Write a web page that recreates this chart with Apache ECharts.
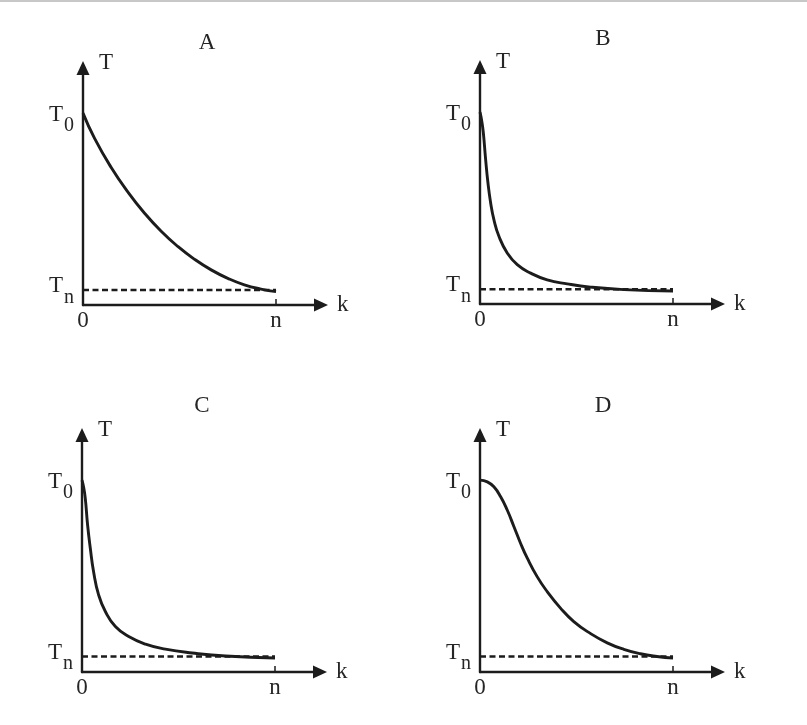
<!DOCTYPE html>
<html><head><meta charset="utf-8">
<script src="https://cdn.jsdelivr.net/npm/echarts@6/dist/echarts.min.js"></script>
<style>html,body{margin:0;padding:0;background:#fff}#c{width:807px;height:725px}</style>
</head><body><div id="c"></div>
<script>
// ---- data (k in units of n, T in units of T0) ----
const panelTitles = ['A', 'B', 'C', 'D'];
const kA = [0, 0.06, 0.147, 0.233, 0.319, 0.405, 0.491, 0.578, 0.664, 0.75, 0.836, 0.922, 1.0];
const tA = [1.0, 0.868, 0.715, 0.588, 0.478, 0.384, 0.305, 0.238, 0.183, 0.139, 0.105, 0.083, 0.07];
const kB = [0, 0.008, 0.017, 0.029, 0.041, 0.055, 0.072, 0.098, 0.141, 0.193, 0.262, 0.348, 0.452, 0.573, 0.745, 1.0];
const tB = [1.0, 0.96, 0.895, 0.755, 0.633, 0.528, 0.44, 0.353, 0.266, 0.205, 0.161, 0.126, 0.105, 0.088, 0.075, 0.068];
const kC = [0, 0.008, 0.017, 0.029, 0.043, 0.06, 0.086, 0.121, 0.173, 0.242, 0.329, 0.432, 0.571, 0.744, 1.0];
const tC = [1.0, 0.965, 0.905, 0.766, 0.645, 0.523, 0.402, 0.315, 0.237, 0.185, 0.145, 0.119, 0.099, 0.083, 0.073];
const kD = [0, 0.038, 0.072, 0.107, 0.141, 0.176, 0.21, 0.245, 0.296, 0.348, 0.417, 0.486, 0.573, 0.659, 0.745, 0.831, 0.917, 1.0];
const tD = [1.0, 0.991, 0.965, 0.913, 0.844, 0.757, 0.671, 0.593, 0.497, 0.419, 0.333, 0.263, 0.2, 0.152, 0.118, 0.095, 0.081, 0.073];
const tnLevels = [0.078, 0.077, 0.081, 0.081];
const nValue = 1;
const t0Value = 1;
const xTickLabels = ['0', 'n'];
const yTickLabels = ['T0', 'Tn'];
const xAxisName = 'k';
const yAxisName = 'T';

// ---- layout ----
const FONT = 'Liberation Serif';
const INK = '#1c1c1c';
const TXT = '#262626';
const FS = 23;
const grids = [
  { left: 83, top: 68, width: 238, height: 237 },
  { left: 480, top: 67, width: 238, height: 237 },
  { left: 82, top: 435, width: 238, height: 237 },
  { left: 480, top: 435, width: 238, height: 237 }
];
const titlePos = [[207, 42.5], [603, 38.5], [202, 406], [603, 406]];
const curves = [[kA, tA], [kB, tB], [kC, tC], [kD, tD]];

const xAxes = [], yAxes = [], series = [], graphics = [];
grids.forEach((g, i) => {
  xAxes.push({
    gridIndex: i, type: 'value', min: 0, max: 1.233,
    name: xAxisName, nameLocation: 'end', nameGap: 16, nameMoveOverlap: false,
    nameTextStyle: { fontFamily: FONT, fontSize: FS, color: TXT, align: 'left', verticalAlign: 'middle', padding: [20, 0, 0, 0] },
    axisLine: { show: true, symbol: ['none', 'triangle'], symbolSize: [13, 14], lineStyle: { color: INK, width: 2.4 } },
    axisTick: { show: true, inside: true, length: 6, customValues: [nValue], lineStyle: { color: INK, width: 1.5 } },
    axisLabel: { show: true, margin: 4, fontFamily: FONT, fontSize: FS, color: TXT,
      customValues: [0, nValue], formatter: v => (v === 0 ? xTickLabels[0] : xTickLabels[1]) },
    splitLine: { show: false }
  });
  yAxes.push({
    gridIndex: i, type: 'value', min: 0, max: 1.235,
    name: yAxisName, nameLocation: 'end', nameGap: 5, nameMoveOverlap: false,
    nameTextStyle: { fontFamily: FONT, fontSize: FS, color: TXT, align: 'left', verticalAlign: 'middle', padding: [0, 0, 0, 16] },
    axisLine: { show: true, symbol: ['none', 'triangle'], symbolSize: [13, 14], lineStyle: { color: INK, width: 2.4 } },
    axisTick: { show: false },
    axisLabel: { show: true, margin: 9, fontFamily: FONT, color: TXT,
      customValues: [tnLevels[i], t0Value],
      formatter: v => (v === t0Value
        ? '{t0|' + yTickLabels[0][0] + '}{s0|' + yTickLabels[0][1] + '}'
        : '{tn|' + yTickLabels[1][0] + '}{sn|' + yTickLabels[1][1] + '}'),
      rich: {
        t0: { fontFamily: FONT, fontSize: FS, color: TXT, verticalAlign: 'top', padding: [13.5, 0, 0, 0] },
        s0: { fontFamily: FONT, fontSize: 20, color: TXT, verticalAlign: 'top', padding: [26, 0, 0, 1] },
        tn: { fontFamily: FONT, fontSize: FS, color: TXT, verticalAlign: 'top', padding: [2, 0, 0, 0] },
        sn: { fontFamily: FONT, fontSize: 20, color: TXT, verticalAlign: 'top', padding: [15, 0, 0, 1] }
      }
    },
    splitLine: { show: false }
  });
  const [ks, ts] = curves[i];
  series.push({
    type: 'line', xAxisIndex: i, yAxisIndex: i, showSymbol: false, smooth: 0.5,
    lineStyle: { color: INK, width: 2.9 }, silent: true,
    data: ks.map((k, j) => [k, ts[j]])
  });
  series.push({
    type: 'line', xAxisIndex: i, yAxisIndex: i, showSymbol: false,
    lineStyle: { color: INK, width: 2.4, type: [6, 3.5] }, silent: true,
    data: [[0, tnLevels[i]], [nValue, tnLevels[i]]]
  });
  graphics.push({
    type: 'text', x: titlePos[i][0], y: titlePos[i][1], silent: true,
    style: { text: panelTitles[i], fill: TXT, font: FS + 'px "Liberation Serif"', align: 'center', verticalAlign: 'middle' }
  });
});
graphics.push({ type: 'line', silent: true, shape: { x1: 0, y1: 1, x2: 807, y2: 1 }, style: { stroke: '#c8c8c8', lineWidth: 2 } });

const chart = echarts.init(document.getElementById('c'), null, { renderer: 'canvas' });
chart.setOption({
  animation: false,
  backgroundColor: '#fff',
  grid: grids.map(g => Object.assign({ containLabel: false }, g)),
  xAxis: xAxes,
  yAxis: yAxes,
  series: series,
  graphic: graphics
});
</script></body></html>
